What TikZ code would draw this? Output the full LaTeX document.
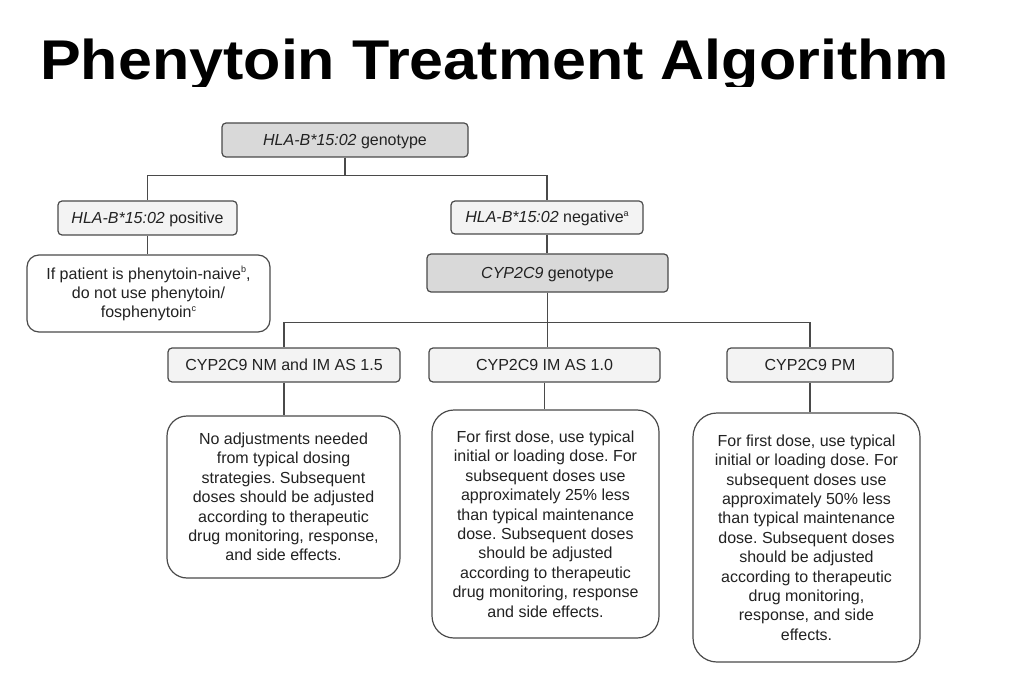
\documentclass[tikz,border=0pt]{standalone}
\usepackage{fontspec}
\usepackage{graphicx}
\usepackage{xcolor}
\usepackage{tikz}
\usetikzlibrary{calc}
\setmainfont{Liberation Sans}
\frenchspacing
\definecolor{bg}{HTML}{FFFFFF}
\definecolor{txt}{HTML}{222222}
\definecolor{edge}{HTML}{4A4A4A}
\definecolor{geno}{HTML}{D9D9D9}
\definecolor{lab}{HTML}{F3F3F3}
\newcommand{\supx}[1]{\raisebox{0.42em}{\fontsize{9}{9}\selectfont #1}}
\newcommand{\hla}{\textit{HLA-B*15:02}}
\tikzset{
  box/.style={
    draw=edge,
    line width=1.2pt,
    text=txt,
    inner sep=0pt,
    font=\fontsize{16}{19.4}\selectfont
  },
  genobox/.style={box, fill=geno, rounded corners=4pt, text height=12pt, text depth=1.5pt},
  labbox/.style={box, fill=lab, rounded corners=4pt, text height=12pt, text depth=1.5pt},
  notebox/.style={box, align=center, fill=bg, rounded corners=#1},
  notebox/.default=12pt,
  link/.style={draw=edge, line width=1.2pt}
}

\begin{document}
\begin{tikzpicture}[x=1pt,y=-1pt]

  % page frame
  \useasboundingbox[fill=bg] (0,0) rectangle (1022,676);

  % title (clipped at the bottom like the slide)
  \begin{scope}
    \clip (0,0) rectangle (1022,87);
    \node[anchor=base west, inner sep=0pt, text=black,
      font=\fontsize{56}{56}\selectfont\bfseries] (title) at (40,80)
      {\scalebox{1.09}[1]{Phenytoin Treatment Algorithm}};
  \end{scope}

  % first level: HLA-B genotype
  \node[genobox, minimum width=246pt, minimum height=34pt] (hla) at (345,140)
    {\hla{} genotype};
  \node[labbox, minimum width=179pt, minimum height=34pt] (pos) at (147.5,218)
    {\hla{} positive};
  \node[labbox, minimum width=192pt, minimum height=33pt] (neg) at (547,217.5)
    {\hla{} negative\supx{a}};

  % positive branch
  \node[notebox, minimum width=243pt, minimum height=77pt] (naive) at (148.5,293.5)
    {If patient is phenytoin-naive\supx{b},\\
     do not use phenytoin/\\
     fosphenytoin\supx{c}};

  % negative branch: CYP2C9 genotype
  \node[genobox, minimum width=241pt, minimum height=38pt] (cyp) at (547.5,273)
    {\textit{CYP2C9} genotype};
  \node[labbox, minimum width=232pt, minimum height=34pt] (nm) at (284,365)
    {CYP2C9 NM and IM AS 1.5};
  \node[labbox, minimum width=231pt, minimum height=34pt] (im) at (544.5,365)
    {CYP2C9 IM AS 1.0};
  \node[labbox, minimum width=166pt, minimum height=34pt] (pm) at (810,365)
    {CYP2C9 PM};

  % dosing notes
  \node[notebox=20pt, minimum width=233pt, minimum height=162pt] (noadj) at (283.5,497)
    {No adjustments needed\\
     from typical dosing\\
     strategies. Subsequent\\
     doses should be adjusted\\
     according to therapeutic\\
     drug monitoring, response,\\
     and side effects.};
  \node[notebox=22pt, minimum width=227pt, minimum height=228pt] (less25) at (545.5,524)
    {For first dose, use typical\\
     initial or loading dose. For\\
     subsequent doses use\\
     approximately 25\% less\\
     than typical maintenance\\
     dose. Subsequent doses\\
     should be adjusted\\
     according to therapeutic\\
     drug monitoring, response\\
     and side effects.};
  \node[notebox=24pt, minimum width=227pt, minimum height=249pt] (less50) at (806.5,537.5)
    {For first dose, use typical\\
     initial or loading dose. For\\
     subsequent doses use\\
     approximately 50\% less\\
     than typical maintenance\\
     dose. Subsequent doses\\
     should be adjusted\\
     according to therapeutic\\
     drug monitoring,\\
     response, and side\\
     effects.};

  % connectors
  \draw[link] (hla.south) -- ++(0,18) -| (pos.north);
  \draw[link] (hla.south) -- ++(0,18) -| (neg.north);
  \draw[link] (pos.south) -- (pos.south |- naive.north);
  \draw[link] (neg.south) -- (neg.south |- cyp.north);
  \draw[link] (cyp.south) -- ++(0,30) -| (nm.north);
  \draw[link] (cyp.south) -- ++(0,30) -| (pm.north);
  \draw[link] (cyp.south) -- (cyp.south |- im.north);
  \draw[link] (nm.south) -- (nm.south |- noadj.north);
  \draw[link] (im.south) -- (im.south |- less25.north);
  \draw[link] (pm.south) -- (pm.south |- less50.north);
\end{tikzpicture}
\end{document}
